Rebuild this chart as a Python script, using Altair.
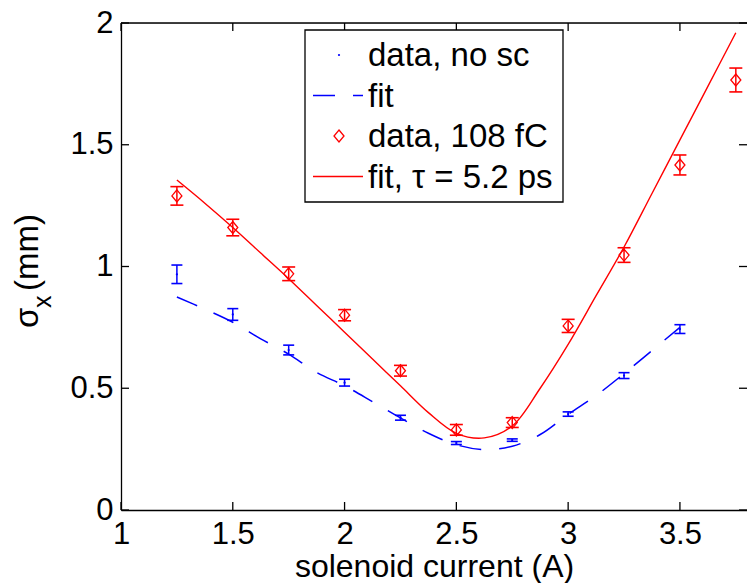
import altair as alt
import pandas as pd

# ---------------- data ----------------
current_sc = [1.25, 1.5, 1.75, 2.0, 2.25, 2.5, 2.75, 3.0, 3.25, 3.5, 3.75]
sigma_sc = [1.29, 1.16, 0.97, 0.80, 0.572, 0.329, 0.359, 0.756, 1.047, 1.417, 1.766]
err_sc = [0.038, 0.034, 0.028, 0.023, 0.022, 0.022, 0.02, 0.027, 0.03, 0.041, 0.049]

current_nosc = [1.25, 1.5, 1.75, 2.0, 2.25, 2.5, 2.75, 3.0, 3.25, 3.5]
sigma_nosc = [0.968, 0.803, 0.657, 0.523, 0.379, 0.275, 0.287, 0.394, 0.552, 0.743]
err_nosc = [0.038, 0.024, 0.02, 0.014, 0.01, 0.006, 0.005, 0.009, 0.012, 0.018]

fit_current_sc = [1.25, 1.375, 1.5, 1.625, 1.75, 1.875, 2.0, 2.125, 2.25, 2.375, 2.5,
                  2.625, 2.75, 2.875, 3.0, 3.125, 3.25, 3.375, 3.5, 3.625, 3.75]
fit_sigma_sc = [1.355, 1.26, 1.16, 1.055, 0.95, 0.84, 0.73, 0.62, 0.51, 0.40, 0.315,
                0.296, 0.345, 0.50, 0.68, 0.88, 1.08, 1.30, 1.52, 1.74, 1.96]

fit_current_nosc = [1.25, 1.375, 1.5, 1.625, 1.75, 1.875, 2.0, 2.125, 2.25, 2.375,
                    2.5, 2.625, 2.75, 2.875, 3.0, 3.125, 3.25, 3.375, 3.5]
fit_sigma_nosc = [0.875, 0.825, 0.771, 0.703, 0.64, 0.565, 0.51, 0.445, 0.378, 0.315,
                  0.268, 0.248, 0.262, 0.31, 0.393, 0.47, 0.56, 0.655, 0.75]

x_ticks = [1, 1.5, 2, 2.5, 3, 3.5]
y_ticks = [0, 0.5, 1, 1.5, 2]
legend_labels = ["data, no sc", "fit", "data, 108 fC", "fit, \u03c4 = 5.2 ps"]
x_title = "solenoid current (A)"
y_title_parts = ["\u03c3", "x", "(mm)"]

# ---------------- style ----------------
W, H = 626, 487
FONT = "Liberation Sans"
FS_TICK = 31
FS = 33
RED = "#ff0000"
BLUE = "#0000ff"
DIAMOND = "M0,-1L0.833,0L0,1L-0.833,0Z"

xs = alt.Scale(domain=[1, 3.8], nice=False, zero=False)
ys = alt.Scale(domain=[0, 2], nice=False, zero=False)

x_axis = alt.Axis(values=x_ticks, format="~g", ticks=False, grid=False,
                  domain=True, domainColor="black", domainWidth=1.3,
                  labelFont=FONT, labelFontSize=FS_TICK, labelColor="black",
                  labelPadding=9, labelFlush=False,
                  title=x_title, titleFont=FONT, titleFontSize=32,
                  titleFontWeight="normal", titleColor="black",
                  titleY=66, titleBaseline="alphabetic")
y_axis = alt.Axis(values=y_ticks, format="~g", ticks=False, grid=False,
                  domain=True, domainColor="black", domainWidth=1.3,
                  labelFont=FONT, labelFontSize=FS_TICK, labelColor="black",
                  labelPadding=8, labelFlush=False, title=None)


def X(f):
    return alt.X(f, type="quantitative", scale=xs, axis=x_axis)


def Y(f):
    return alt.Y(f, type="quantitative", scale=ys, axis=y_axis)


sc = pd.DataFrame({"x": current_sc, "y": sigma_sc, "e": err_sc})
sc["lo"] = sc["y"] - sc["e"]
sc["hi"] = sc["y"] + sc["e"]
nosc = pd.DataFrame({"x": current_nosc, "y": sigma_nosc, "e": err_nosc})
nosc["lo"] = nosc["y"] - nosc["e"]
nosc["hi"] = nosc["y"] + nosc["e"]
fit_sc = pd.DataFrame({"x": fit_current_sc, "y": fit_sigma_sc})
fit_nosc = pd.DataFrame({"x": fit_current_nosc, "y": fit_sigma_nosc})
xt = pd.DataFrame({"v": x_ticks})
yt = pd.DataFrame({"v": y_ticks})
one = pd.DataFrame({"a": [0]})

layers = []

# frame: top line and inward ticks
layers.append(alt.Chart(one).mark_rule(color="black", strokeWidth=1.3).encode(
    x=alt.value(0), x2=alt.value(W), y=alt.value(0)))
for y0, y1 in [(H, H - 8), (0, 8)]:
    layers.append(alt.Chart(xt).mark_rule(color="black", strokeWidth=1.3).encode(
        x=X("v"), y=alt.value(y0), y2=alt.value(y1)))
for x0, x1 in [(0, 8), (W, W - 8)]:
    layers.append(alt.Chart(yt).mark_rule(color="black", strokeWidth=1.3).encode(
        y=Y("v"), x=alt.value(x0), x2=alt.value(x1)))

# fits
layers.append(alt.Chart(fit_nosc).mark_line(color=BLUE, strokeWidth=1.5, strokeDash=[22, 18],
                                            interpolate="catmull-rom").encode(x=X("x"), y=Y("y")))
layers.append(alt.Chart(fit_sc).mark_line(color=RED, strokeWidth=1.4,
                                          interpolate="catmull-rom").encode(x=X("x"), y=Y("y")))

# error bars
for df, col, cap in [(nosc, BLUE, 11), (sc, RED, 13)]:
    layers.append(alt.Chart(df).mark_rule(color=col, strokeWidth=1.5).encode(
        x=X("x"), y=Y("lo"), y2="hi"))
    for f in ["lo", "hi"]:
        layers.append(alt.Chart(df).mark_tick(color=col, orient="horizontal", size=cap,
                                              thickness=1.6, opacity=1).encode(x=X("x"), y=Y(f)))

# data markers
layers.append(alt.Chart(nosc).mark_circle(color=BLUE, size=5, opacity=1).encode(x=X("x"), y=Y("y")))
layers.append(alt.Chart(sc).mark_point(shape=DIAMOND, size=144, filled=False, color=RED,
                                       strokeWidth=1.3, opacity=1).encode(x=X("x"), y=Y("y")))

# legend
layers.append(alt.Chart(one).mark_rect(fill="white", stroke="black", strokeWidth=1.3).encode(
    x=alt.value(184), x2=alt.value(442), y=alt.value(7), y2=alt.value(179)))
baselines = [43, 83.5, 124, 164.5]
for lab, b in zip(legend_labels, baselines):
    layers.append(alt.Chart(one).mark_text(font=FONT, fontSize=FS, align="left",
                                           baseline="alphabetic", color="black").encode(
        x=alt.value(247), y=alt.value(b), text=alt.value(lab)))
layers.append(alt.Chart(one).mark_circle(color=BLUE, size=5, opacity=1).encode(
    x=alt.value(218), y=alt.value(32)))
layers.append(alt.Chart(one).mark_rule(color=BLUE, strokeWidth=1.5, strokeDash=[22, 18]).encode(
    x=alt.value(192), x2=alt.value(242), y=alt.value(72.5)))
layers.append(alt.Chart(one).mark_point(shape=DIAMOND, size=144, filled=False, color=RED,
                                        strokeWidth=1.3, opacity=1).encode(
    x=alt.value(218), y=alt.value(113)))
layers.append(alt.Chart(one).mark_rule(color=RED, strokeWidth=1.4).encode(
    x=alt.value(192), x2=alt.value(242), y=alt.value(153.5)))

# y title: sigma with subscript x
for txt, xv, yv, fs in [(y_title_parts[0], -83, 305, FS), (y_title_parts[1], -70, 285, 25),
                        (y_title_parts[2], -83, 268, FS)]:
    layers.append(alt.Chart(one).mark_text(font=FONT, fontSize=fs, angle=270, align="left",
                                           baseline="alphabetic", color="black").encode(
        x=alt.value(xv), y=alt.value(yv), text=alt.value(txt)))

chart = alt.layer(*layers).properties(
    width=W, height=H,
    autosize=alt.AutoSizeParams(type="none"),
    padding={"left": 121, "top": 23, "right": 0, "bottom": 73},
).configure_view(stroke=None).configure(background="white")

chart.save("out.html", embed_options={"renderer": "svg", "actions": False})
